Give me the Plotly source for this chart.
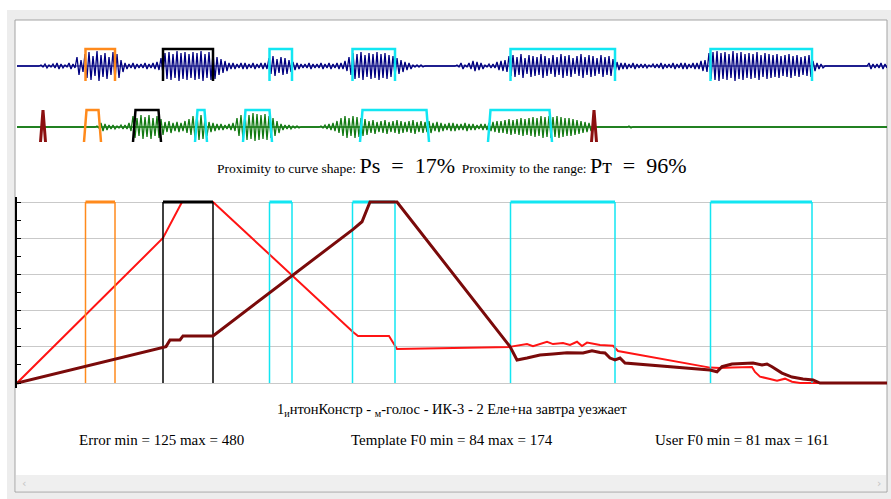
import plotly.graph_objects as go

W, H = 891, 499

# ---------------- data ----------------
STEP = 4  # envelope sample spacing (time units)

# user speech waveform envelope (top, navy)
user_wave_env = (
    [0] * 6
    + [1, 2, 1, 2, 3, 2, 1, 3, 2]
    + [9, 6]
    + [12, 14, 10, 15, 11, 13, 9, 14, 12]
    + [6]
    + [3, 2, 3, 2, 2, 3, 2, 3, 4]
    + [8]
    + [13, 14, 12, 15, 13, 14, 12, 14, 13, 15, 12, 14, 13]
    + [9, 7, 5]
    + [3, 3, 2, 3, 3, 2, 3, 2, 3, 3]
    + [8, 10, 7, 9, 8, 6]
    + [4, 3, 2, 2, 3, 2, 2, 3, 2, 3, 2, 3, 3, 5]
    + [9]
    + [13, 12, 14, 11, 13, 12, 14, 12, 13, 11, 10]
    + [8, 6, 4, 3]
    + [1, 1, 1]
    + [0] * 8
    + [1, 3, 1]
    + [3, 5, 4, 3]
    + [1, 2, 2]
    + [4, 5, 6]
    + [10, 11, 9, 12, 8, 11, 10, 9, 12, 10, 8, 11, 9, 12, 10, 11, 8, 10, 12, 9, 11, 10, 8, 11, 9, 10, 7]
    + [4, 3, 3, 2, 3, 2]
    + [2, 2, 1, 2, 2, 3, 2, 2, 3, 2, 3, 3, 2, 3, 3]
    + [5, 6]
    + [13, 14, 15, 13, 14, 12, 15, 13, 14, 12, 13, 12, 14, 11, 13, 12, 11, 12, 10, 11, 12, 10, 11, 9, 10, 11]
    + [5, 3, 2]
    + [0] * 11
    + [3, 2, 2, 3, 2]
)

# template speech waveform envelope (second row, green)
tmpl_wave_env = (
    [0] * 20
    + [1, 4, 3, 2, 2, 1, 2, 2, 4]
    + [11, 9, 12, 10, 12, 9, 11, 8]
    + [5, 6, 4, 5, 4, 6, 8]
    + [11, 13, 12, 9]
    + [5, 4, 3, 3, 2, 3, 4]
    + [9, 12, 13, 12, 14, 13, 12, 13, 11, 9, 6]
    + [3, 2, 2, 1, 1]
    + [0, 0, 0, 0, 0, 1]
    + [2, 3, 4, 6]
    + [9, 11, 9, 11, 10, 9, 8]
    + [6, 7, 5, 6, 7, 5, 6, 7, 6, 5, 6, 7, 5, 6, 5, 6]
    + [4, 5, 4, 3, 4, 4, 3, 3, 4, 3]
    + [3, 2, 3, 3, 4]
    + [5, 6, 6, 7, 8, 7, 8, 9, 8, 9, 10, 9, 11, 10, 11, 10, 11, 10]
    + [9, 9, 8, 7, 6, 5, 4]
    + [0] * 9
    + [1]
    + [0] * 64
)

ORANGE, BLACK, CYAN = "#ff8a1c", "#000000", "#12e6f2"

# user syllable segments (top row and F0 chart)
user_seg_start = [68.5, 146, 252.5, 335.5, 493.5, 693.5]
user_seg_end = [98, 196, 275, 378, 598, 795]
user_seg_color = [ORANGE, BLACK, CYAN, CYAN, CYAN, CYAN]

# template syllable segments (second row)
tmpl_seg_start = [67, 116, 178, 226, 343, 471]
tmpl_seg_end = [84, 144, 190, 255, 412, 535]
tmpl_seg_color = [ORANGE, BLACK, CYAN, CYAN, CYAN, CYAN]
tmpl_marks = [26, 577]

# F0 curves (normalised 0..10)
red_f0_x = [0, 146, 165, 196, 336, 341, 372, 380, 493, 494, 510, 516, 530, 536, 546, 553,
            560, 565, 570, 583, 596, 601, 693, 703, 715, 735, 738, 743, 753, 760, 768, 775, 783, 870]
red_f0_y = [0, 8.01, 10, 10, 2.82, 2.60, 2.60, 1.88, 1.99, 2.01, 2.15, 2.04, 2.28, 2.15, 2.21, 2.10,
            2.28, 2.04, 2.23, 2.10, 2.06, 1.77, 0.85, 0.83, 0.85, 0.88, 0.61, 0.35, 0.22, 0.13, 0.24, 0.07, 0, 0]

dark_f0_x = [0, 146, 149, 153, 163, 166, 196, 336, 345, 353, 380, 493, 500, 510, 523, 536, 550,
             566, 575, 583, 588, 593, 598, 603, 608, 693, 700, 705, 715, 736, 745, 750, 755, 765,
             775, 786, 796, 803, 870]
dark_f0_y = [0, 1.99, 2.01, 2.38, 2.38, 2.60, 2.60, 8.49, 8.91, 10, 10, 2.01, 1.27, 1.38, 1.55, 1.60,
             1.67, 1.66, 1.78, 1.69, 1.66, 1.38, 1.27, 1.38, 1.10, 0.72, 0.62, 0.90, 1.05, 1.10, 0.99,
             1.05, 0.90, 0.55, 0.33, 0.22, 0.17, 0, 0]

BIG = "<span style=\"font-size:22px\">"
proximity_text = ("Proximity to curve shape: " + BIG + "Ps&nbsp;&nbsp;=&nbsp;&nbsp;17%</span>"
                  "&nbsp;&nbsp;Proximity to the range: " + BIG + "Pт&nbsp;&nbsp;=&nbsp;&nbsp;96%</span>")
caption_text = "1<sub>и</sub>нтонКонстр - <sub>м</sub>-голос - ИК-3 - 2 Еле+на завтра уезжает"
stats_texts = ["Error min = 125 max = 480", "Template F0 min = 84 max = 174", "User F0 min = 81 max = 161"]

# ---------------- figure ----------------
fig = go.Figure()
SERIF = "Liberation Serif"


def px_x(p):
    return p / W


def px_y(p):
    return 1 - p / H


def wave_xy(env):
    xs, ys = [], []
    for i, a in enumerate(env):
        xs += [STEP * i, STEP * i + STEP / 2]
        ys += [a, -a]
    return xs, ys


# top waveform (user)
wx, wy = wave_xy(user_wave_env)
fig.add_trace(go.Scatter(x=[0, 870], y=[0, 0], mode="lines", line=dict(color="#000080", width=1.2),
                         xaxis="x", yaxis="y", hoverinfo="skip"))
fig.add_trace(go.Scatter(x=wx, y=wy, mode="lines", line=dict(color="#000080", width=1.3),
                         xaxis="x", yaxis="y", hoverinfo="skip"))
for s, e, c in zip(user_seg_start, user_seg_end, user_seg_color):
    fig.add_trace(go.Scatter(x=[s, s, e, e], y=[-15, 17, 17, -15], mode="lines",
                             line=dict(color=c, width=2.5), xaxis="x", yaxis="y", hoverinfo="skip"))

# second waveform (template)
gx, gy = wave_xy(tmpl_wave_env)
fig.add_trace(go.Scatter(x=[0, 870], y=[0, 0], mode="lines", line=dict(color="#137a13", width=1.3),
                         xaxis="x", yaxis="y2", hoverinfo="skip"))
fig.add_trace(go.Scatter(x=gx, y=gy, mode="lines", line=dict(color="#137a13", width=1.3),
                         xaxis="x", yaxis="y2", hoverinfo="skip"))
INSET = 2.5
for s, e, c in zip(tmpl_seg_start, tmpl_seg_end, tmpl_seg_color):
    fig.add_trace(go.Scatter(x=[s, s + INSET, e - INSET, e], y=[-15, 17, 17, -15], mode="lines",
                             line=dict(color=c, width=2.5), xaxis="x", yaxis="y2", hoverinfo="skip"))
for m in tmpl_marks:
    fig.add_trace(go.Scatter(x=[m - 2.5, m, m + 2.5], y=[-15, 17, -15], mode="lines",
                             line=dict(color="#8b1010", width=3), xaxis="x", yaxis="y2", hoverinfo="skip"))

# F0 chart
fig.add_trace(go.Scatter(x=red_f0_x, y=red_f0_y, mode="lines", line=dict(color="#ff1414", width=2),
                         xaxis="x3", yaxis="y3", hoverinfo="skip"))
for s, e, c in zip(user_seg_start, user_seg_end, user_seg_color):
    fig.add_trace(go.Scatter(x=[s, s, None, e, e], y=[0, 10, None, 10, 0], mode="lines",
                             line=dict(color=c, width=1.5), xaxis="x3", yaxis="y3", hoverinfo="skip"))
    fig.add_trace(go.Scatter(x=[s, e], y=[10, 10], mode="lines",
                             line=dict(color=c, width=3), xaxis="x3", yaxis="y3", hoverinfo="skip"))
fig.add_trace(go.Scatter(x=dark_f0_x, y=dark_f0_y, mode="lines", line=dict(color="#7a0a0a", width=3),
                         xaxis="x3", yaxis="y3", hoverinfo="skip"))

xdom = [px_x(17), px_x(887)]
PXU = 18.1  # pixels per F0 unit
fig.update_layout(
    width=W, height=H, margin=dict(l=0, r=0, t=0, b=0),
    paper_bgcolor="white", plot_bgcolor="rgba(0,0,0,0)", showlegend=False,
    xaxis=dict(domain=xdom, range=[0, 870], visible=False, anchor="y", fixedrange=True),
    yaxis=dict(domain=[px_y(92), px_y(40)], range=[-26, 26], visible=False, anchor="x"),
    yaxis2=dict(domain=[px_y(153), px_y(101)], range=[-26, 26], visible=False, anchor="x"),
    xaxis3=dict(domain=xdom, range=[0, 870], visible=False, anchor="y3"),
    yaxis3=dict(domain=[px_y(383 + 0.3 * PXU), px_y(202 - 0.3 * PXU)], range=[-0.3, 10.3], anchor="x3",
                showgrid=True, gridcolor="#c9c9c9", gridwidth=1, dtick=2, tick0=0,
                showline=True, linecolor="black", linewidth=1.5, zeroline=False,
                ticks="inside", ticklen=4, tickcolor="black", showticklabels=False,
                minor=dict(dtick=1, ticks="inside", ticklen=4, tickcolor="black", showgrid=False)),
    font=dict(family=SERIF, color="black"),
)

shapes = [
    dict(type="rect", xref="paper", yref="paper", x0=px_x(7), x1=1, y0=0, y1=px_y(10),
         fillcolor="#ededed", line=dict(width=0), layer="below"),
    dict(type="rect", xref="paper", yref="paper", x0=px_x(15), x1=px_x(887), y0=px_y(492), y1=px_y(20),
         fillcolor="white", line=dict(color="#a3a3a3", width=1), layer="below"),
    dict(type="rect", xref="paper", yref="paper", x0=px_x(16), x1=px_x(886), y0=px_y(491), y1=px_y(475),
         fillcolor="#efefef", line=dict(width=0), layer="below"),
]
fig.update_layout(shapes=shapes)

ann = [
    dict(text=proximity_text, x=px_x(452), y=px_y(165), font=dict(size=13.5)),
    dict(text=caption_text, x=px_x(452), y=px_y(410), font=dict(size=14.5)),
    dict(text=stats_texts[0], x=px_x(161), y=px_y(440), font=dict(size=15)),
    dict(text=stats_texts[1], x=px_x(452), y=px_y(440), font=dict(size=15)),
    dict(text=stats_texts[2], x=px_x(742), y=px_y(440), font=dict(size=15)),
    dict(text="‹", x=px_x(24), y=px_y(483), font=dict(size=11, color="#c4c4c4", family="DejaVu Sans")),
    dict(text="›", x=px_x(879), y=px_y(483), font=dict(size=11, color="#c4c4c4", family="DejaVu Sans")),
]
for a in ann:
    a.update(xref="paper", yref="paper", xanchor="center", yanchor="middle", showarrow=False)
fig.update_layout(annotations=ann)

fig.write_html("out.html")
